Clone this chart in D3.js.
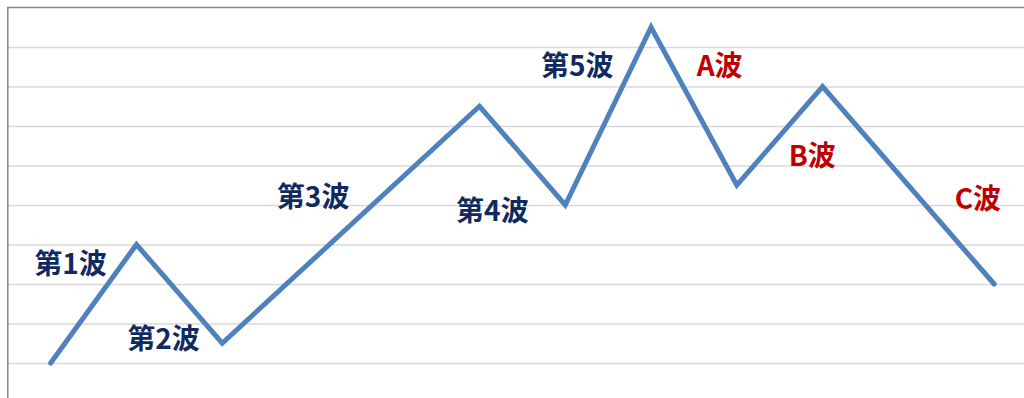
<!DOCTYPE html>
<html>
<head>
<meta charset="utf-8">
<script src="https://cdn.jsdelivr.net/npm/d3@7"></script>
<style>
  html, body { margin: 0; padding: 0; background: #fff; overflow: hidden; }
  svg { display: block; }
</style>
</head>
<body>
<svg id="chart" width="1024" height="398"></svg>
<script>
// Elliott wave path: category index and price level
const waveX = [1, 2, 3, 6, 7, 8, 9, 10, 12];
const waveY = [1, 4, 1.5, 7.5, 5, 9.5, 5.5, 8, 3];

// Wave annotations (in data units)
const labelText = ["第1波", "第2波", "第3波", "第4波", "第5波", "A波", "B波", "C波"];
const labelX = [1.23, 2.315, 4.06, 6.15, 7.14, 8.80, 9.88, 11.81];
const labelY = [3.56, 1.66, 5.26, 4.90, 8.57, 8.57, 6.30, 5.21];
const labelKind = ["impulse", "impulse", "impulse", "impulse", "impulse", "correction", "correction", "correction"];

const yTicks = [1, 2, 3, 4, 5, 6, 7, 8, 9];

const svg = d3.select("#chart");
const plot = { left: 7.8, top: 7.5, right: 1037, bottom: 402.5 };

const x = d3.scaleLinear().domain([0.5, 12.5]).range([plot.left, plot.right]);
const y = d3.scaleLinear().domain([0, 10]).range([plot.bottom, plot.top]);

// horizontal gridlines
const grid = svg.append("g")
  .attr("transform", `translate(${plot.left},0)`)
  .call(d3.axisLeft(y).tickValues(yTicks).tickSize(-(plot.right - plot.left)).tickFormat(""));
grid.select(".domain").remove();
grid.selectAll(".tick line").attr("stroke", "#d9d9d9").attr("stroke-width", 1.5);

// plot area frame
svg.append("rect")
  .attr("x", plot.left).attr("y", plot.top)
  .attr("width", plot.right - plot.left).attr("height", plot.bottom - plot.top)
  .attr("fill", "none").attr("stroke", "#868686").attr("stroke-width", 1.5);

// wave line
const pts = waveX.map((d, i) => [d, waveY[i]]);
svg.append("path")
  .datum(pts)
  .attr("fill", "none")
  .attr("stroke", "#4f81bd")
  .attr("stroke-width", 5)
  .attr("stroke-linejoin", "miter")
  .attr("stroke-linecap", "round")
  .attr("d", d3.line().x(d => x(d[0])).y(d => y(d[1])));

// labels
svg.append("g").selectAll("text")
  .data(labelText)
  .join("text")
  .attr("x", (d, i) => x(labelX[i]))
  .attr("y", (d, i) => y(labelY[i]))
  .attr("text-anchor", "middle")
  .attr("dominant-baseline", "central")
  .attr("font-family", "'Noto Sans CJK SC', 'Noto Sans', sans-serif")
  .attr("font-weight", "bold")
  .attr("font-size", 28)
  .attr("fill", (d, i) => labelKind[i] === "impulse" ? "#102a5f" : "#c00000")
  .text(d => d);
</script>
</body>
</html>
